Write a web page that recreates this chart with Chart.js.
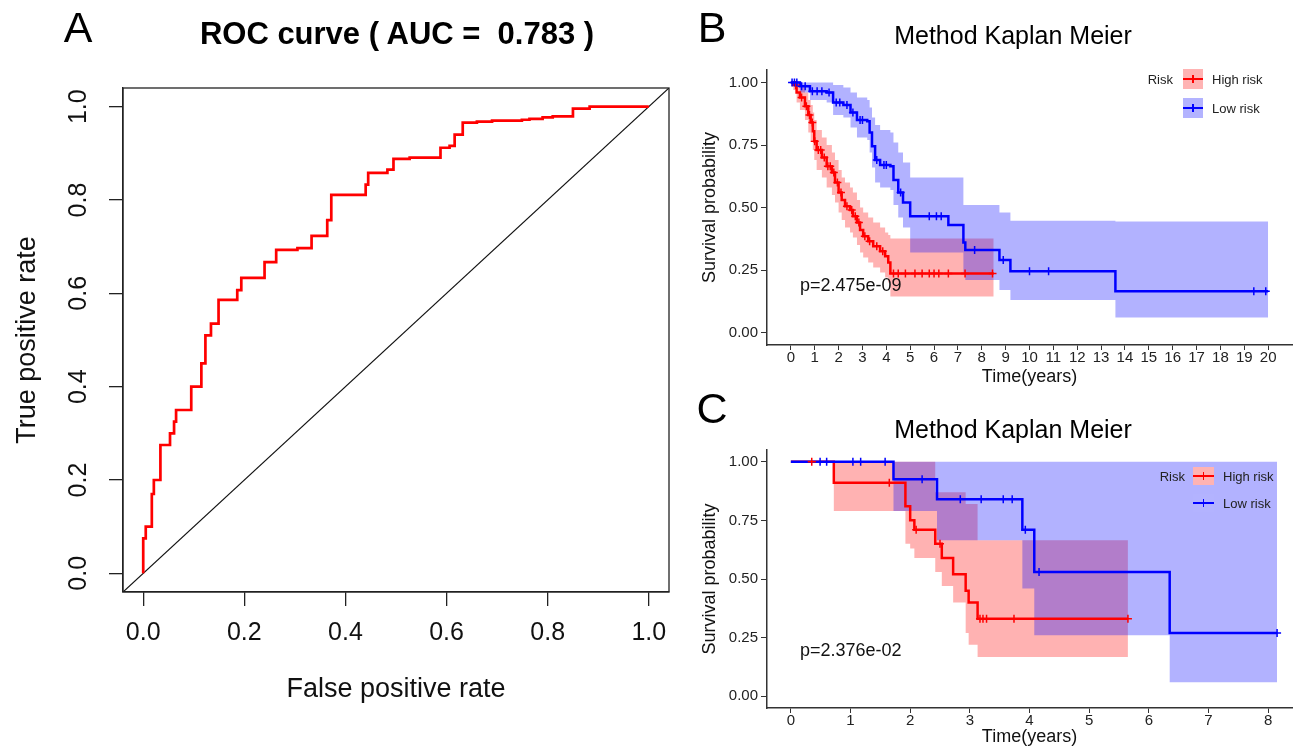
<!DOCTYPE html>
<html>
<head>
<meta charset="utf-8">
<script src="https://cdn.jsdelivr.net/npm/chart.js@4.4.1/dist/chart.umd.min.js"></script>
<style>
  html, body { margin: 0; padding: 0; background: #fff; overflow: hidden; }
  body { width: 1293px; height: 746px; position: relative; font-family: "Liberation Sans", Arial, sans-serif; }
  canvas { position: absolute; }
  .t { position: absolute; white-space: pre; line-height: 1; color: #000; }
  .c { transform: translate(-50%, -50%); }
  .l { transform: translate(0, -50%); }
  .r { transform: translate(-100%, -50%); }
  .key { position: absolute; }
  .key .h { position: absolute; left: 0; right: 0; top: 50%; height: 2px; margin-top: -1px; }
  .key .v { position: absolute; left: 50%; top: 50%; width: 1.5px; height: 8px; margin-left: -0.75px; margin-top: -4px; }
</style>
</head>
<body>
<canvas id="rocChart" width="680" height="746" style="left:0;top:0"></canvas>
<canvas id="kmB" width="625" height="350" style="left:680px;top:40px"></canvas>
<canvas id="kmC" width="625" height="326" style="left:680px;top:420px"></canvas>

<div class="t c" style="left:78px;top:27px;font-size:43px">A</div>
<div class="t c" style="left:397px;top:33px;font-size:31px;font-weight:bold">ROC curve ( AUC =  0.783 )</div>
<div class="t c" style="left:712px;top:27px;font-size:43px">B</div>
<div class="t c" style="left:1013px;top:35px;font-size:25px">Method Kaplan Meier</div>
<div class="t c" style="left:712px;top:408px;font-size:43px">C</div>
<div class="t c" style="left:1013px;top:429px;font-size:25px">Method Kaplan Meier</div>

<div class="t l" style="left:800px;top:285px;font-size:18px;color:#111">p=2.475e-09</div>
<div class="t l" style="left:800px;top:650px;font-size:18px;color:#111">p=2.376e-02</div>

<div class="t r" style="left:1173px;top:79px;font-size:13px;color:#222">Risk</div>
<div class="key" style="left:1183px;top:69px;width:20px;height:20px;background:#ffb3b3"><div class="h" style="background:#f00"></div><div class="v" style="background:#f00"></div></div>
<div class="key" style="left:1183px;top:98px;width:20px;height:20px;background:#b3b3ff"><div class="h" style="background:#00f"></div><div class="v" style="background:#00f"></div></div>
<div class="t l" style="left:1212px;top:79px;font-size:13px;color:#222">High risk</div>
<div class="t l" style="left:1212px;top:108px;font-size:13px;color:#222">Low risk</div>

<div class="t r" style="left:1185px;top:476px;font-size:13px;color:#222">Risk</div>
<div class="key" style="left:1193px;top:467px;width:21px;height:18px;background:#ffb3b3"><div class="h" style="background:#f00"></div><div class="v" style="background:#f00"></div></div>
<div class="key" style="left:1193px;top:494px;width:21px;height:18px;background:#b3b3ff"><div class="h" style="background:#00f"></div><div class="v" style="background:#00f"></div></div>
<div class="t l" style="left:1223px;top:476px;font-size:13px;color:#222">High risk</div>
<div class="t l" style="left:1223px;top:503px;font-size:13px;color:#222">Low risk</div>

<script>
// panel A: ROC corners (false positive rate, true positive rate)
const rocFpr = [0, 0, 0.005, 0.005, 0.017, 0.017, 0.021, 0.021, 0.034, 0.034,
  0.053, 0.053, 0.061, 0.061, 0.065, 0.065, 0.095, 0.095, 0.115, 0.115,
  0.123, 0.123, 0.134, 0.134, 0.149, 0.149, 0.186, 0.186, 0.194, 0.194,
  0.240, 0.240, 0.263, 0.263, 0.305, 0.305, 0.333, 0.333, 0.364, 0.364,
  0.372, 0.372, 0.440, 0.440, 0.445, 0.445, 0.483, 0.483, 0.495, 0.495,
  0.527, 0.527, 0.588, 0.588, 0.606, 0.606, 0.616, 0.616, 0.632, 0.632,
  0.660, 0.660, 0.690, 0.690, 0.749, 0.749, 0.764, 0.764, 0.790, 0.790,
  0.810, 0.810, 0.850, 0.850, 0.883, 0.883, 1.0];
const rocTpr = [0, 0.075, 0.075, 0.10, 0.10, 0.17, 0.17, 0.20, 0.20, 0.275,
  0.275, 0.30, 0.30, 0.325, 0.325, 0.35, 0.35, 0.40, 0.40, 0.45,
  0.45, 0.51, 0.51, 0.535, 0.535, 0.586, 0.586, 0.607, 0.607, 0.633,
  0.633, 0.667, 0.667, 0.693, 0.693, 0.697, 0.697, 0.723, 0.723, 0.757,
  0.757, 0.811, 0.811, 0.833, 0.833, 0.858, 0.858, 0.865, 0.865, 0.888,
  0.888, 0.891, 0.891, 0.912, 0.912, 0.916, 0.916, 0.940, 0.940, 0.966,
  0.966, 0.968, 0.968, 0.970, 0.970, 0.972, 0.972, 0.974, 0.974, 0.977,
  0.977, 0.979, 0.979, 0.996, 0.996, 1.0, 1.0];
const rocTicks = [0, 0.2, 0.4, 0.6, 0.8, 1.0];

// panel B: Kaplan Meier, high risk
const bHighTime = [0, 0.1, 0.24, 0.38, 0.59, 0.73, 0.83, 0.92, 0.98, 1.08, 1.3, 1.5, 1.72, 1.85, 2.0,
  2.13, 2.27, 2.48, 2.6, 2.77, 2.9, 3.03, 3.24, 3.45, 3.74, 3.95, 4.08, 4.17, 8.5];
const bHighSurv = [1.0, 0.99, 0.96, 0.94, 0.905, 0.87, 0.84, 0.805, 0.765, 0.73, 0.70, 0.665, 0.64, 0.60, 0.56,
  0.53, 0.505, 0.49, 0.465, 0.44, 0.41, 0.385, 0.365, 0.345, 0.325, 0.305, 0.28, 0.236, 0.236];
const bHighUpper = [1.0, 1.0, 0.99, 0.98, 0.96, 0.93, 0.91, 0.88, 0.85, 0.81, 0.78, 0.75, 0.72, 0.69, 0.65,
  0.62, 0.60, 0.58, 0.56, 0.53, 0.50, 0.48, 0.46, 0.44, 0.42, 0.40, 0.39, 0.376, 0.376];
const bHighLower = [1.0, 0.97, 0.92, 0.89, 0.85, 0.80, 0.77, 0.73, 0.69, 0.65, 0.62, 0.58, 0.55, 0.52, 0.48,
  0.45, 0.42, 0.40, 0.38, 0.35, 0.32, 0.30, 0.28, 0.26, 0.24, 0.22, 0.20, 0.144, 0.144];
const bHighCensor = [0.2, 0.45, 0.65, 0.78, 0.9, 1.0, 1.15, 1.25, 1.4, 1.55, 1.65, 1.8, 1.95, 2.1, 2.35,
  2.55, 2.7, 2.85, 3.1, 3.3, 3.6, 3.85, 4.3, 4.5, 4.8, 5.2, 5.5, 5.8, 6.0, 6.2, 6.6, 7.3, 8.45];

// panel B: low risk
const bLowTime = [0, 0.38, 0.8, 1.5, 1.77, 2.2, 2.5, 2.77, 3.2, 3.3, 3.4, 3.53, 3.74, 4.17, 4.3,
  4.5, 4.7, 5.0, 6.6, 7.23, 7.31, 8.74, 9.2, 13.6, 20.0];
const bLowSurv = [1.0, 0.985, 0.965, 0.96, 0.92, 0.91, 0.88, 0.85, 0.845, 0.80, 0.745, 0.69, 0.67, 0.665, 0.61,
  0.56, 0.52, 0.465, 0.43, 0.36, 0.33, 0.29, 0.245, 0.165, 0.165];
const bLowUpper = [1.0, 1.0, 1.0, 1.0, 0.99, 0.98, 0.96, 0.94, 0.93, 0.90, 0.86, 0.83, 0.81, 0.80, 0.76,
  0.72, 0.68, 0.62, 0.62, 0.51, 0.51, 0.48, 0.447, 0.444, 0.444];
const bLowLower = [1.0, 0.96, 0.93, 0.92, 0.87, 0.86, 0.82, 0.78, 0.77, 0.72, 0.66, 0.60, 0.58, 0.57, 0.51,
  0.46, 0.42, 0.32, 0.32, 0.24, 0.21, 0.17, 0.13, 0.06, 0.06];
const bLowCensor = [0.05, 0.15, 0.25, 0.45, 0.6, 0.9, 1.1, 1.3, 1.6, 1.9, 2.05, 2.35, 2.6, 2.9, 3.0,
  3.6, 3.9, 4.0, 4.6, 5.8, 6.1, 6.3, 7.7, 8.9, 10.0, 10.8, 19.4, 19.9];

// panel C
const cHighTime = [0, 0.72, 1.92, 2.0, 2.07, 2.42, 2.53, 2.72, 2.93, 2.98, 3.13, 5.65];
const cHighSurv = [1.0, 0.91, 0.81, 0.75, 0.71, 0.65, 0.59, 0.52, 0.45, 0.40, 0.33, 0.33];
const cHighUpper = [1.0, 1.0, 1.0, 1.0, 1.0, 0.87, 0.87, 0.87, 0.82, 0.82, 0.665, 0.665];
const cHighLower = [1.0, 0.79, 0.65, 0.63, 0.59, 0.53, 0.47, 0.40, 0.27, 0.22, 0.167, 0.167];
const cHighCensor = [0.35, 1.65, 2.1, 2.5, 3.17, 3.22, 3.28, 3.74, 5.65];

const cLowTime = [0, 1.72, 2.45, 3.88, 4.08, 6.35, 8.15];
const cLowSurv = [1.0, 0.925, 0.84, 0.71, 0.53, 0.27, 0.27];
const cLowUpper = [1.0, 1.0, 1.0, 1.0, 1.0, 1.0, 1.0];
const cLowLower = [1.0, 0.79, 0.665, 0.46, 0.26, 0.06, 0.06];
const cLowCensor = [0.49, 0.6, 1.04, 1.17, 1.58, 2.2, 2.84, 3.19, 3.56, 3.71, 3.93, 4.16, 8.15];

const bTimeTicks = [0, 1, 2, 3, 4, 5, 6, 7, 8, 9, 10, 11, 12, 13, 14, 15, 16, 17, 18, 19, 20];
const cTimeTicks = [0, 1, 2, 3, 4, 5, 6, 7, 8];
const survTicks = [0, 0.25, 0.5, 0.75, 1.0];

const FONT = '"Liberation Sans", Arial, sans-serif';
Chart.defaults.font.family = FONT;

function pts(xs, ys) {
  return xs.map((x, i) => ({ x: x, y: ys[i] }));
}

function survAt(times, surv, t) {
  let s = surv[0];
  times.forEach((ti, i) => { if (ti <= t) s = surv[i]; });
  return s;
}

function censorPts(times, surv, cens) {
  return cens.map(t => ({ x: t, y: survAt(times, surv, t) }));
}

const boxPlugin = {
  id: 'box',
  afterDraw(chart) {
    const { ctx, chartArea: a } = chart;
    ctx.save();
    ctx.strokeStyle = '#222';
    ctx.lineWidth = 1.3;
    ctx.strokeRect(a.left, a.top, a.right - a.left, a.bottom - a.top);
    ctx.restore();
  }
};

// ROC chart
new Chart(document.getElementById('rocChart'), {
  type: 'line',
  data: {
    datasets: [
      {
        data: pts(rocFpr, rocTpr),
        borderColor: '#ff0000',
        borderWidth: 2.7,
        pointRadius: 0,
        fill: false,
        order: 1
      },
      {
        data: [{ x: -0.04, y: -0.04 }, { x: 1.04, y: 1.04 }],
        borderColor: '#111',
        borderWidth: 1.2,
        pointRadius: 0,
        fill: false,
        order: 2
      }
    ]
  },
  options: {
    responsive: false,
    animation: false,
    events: [],
    layout: { padding: { left: 0, top: 88, right: 11, bottom: 0 } },
    plugins: { legend: { display: false }, tooltip: { enabled: false } },
    scales: {
      x: {
        type: 'linear', min: -0.04, max: 1.04,
        afterBuildTicks: s => { s.ticks = rocTicks.map(v => ({ value: v })); },
        afterFit: s => { s.height = 154; },
        ticks: { font: { size: 25 }, color: '#111', padding: 12, maxRotation: 0, autoSkip: false,
                 callback: v => v.toFixed(1) },
        grid: { drawOnChartArea: false, tickLength: 14, color: '#222', lineWidth: 1.3 },
        border: { display: true, color: '#222', width: 1.3 },
        title: { display: true, text: 'False positive rate', color: '#111',
                 font: { size: 27, lineHeight: 1 }, padding: { top: 0, bottom: 43 } }
      },
      y: {
        type: 'linear', min: -0.04, max: 1.04,
        afterBuildTicks: s => { s.ticks = rocTicks.map(v => ({ value: v })); },
        afterFit: s => { s.width = 123; },
        ticks: { font: { size: 25 }, color: '#111', padding: 13, minRotation: 90, maxRotation: 90,
                 crossAlign: 'center', callback: v => v.toFixed(1) },
        grid: { drawOnChartArea: false, tickLength: 14, color: '#222', lineWidth: 1.3 },
        border: { display: true, color: '#222', width: 1.3 },
        title: { display: true, text: 'True positive rate', color: '#111',
                 font: { size: 27, lineHeight: 1 }, padding: { top: 14, bottom: 0 } }
      }
    }
  },
  plugins: [boxPlugin]
});

function kmChart(id, g) {
  const edge = { borderWidth: 0, borderColor: 'rgba(0,0,0,0)', pointRadius: 0, stepped: 'before', fill: false };
  return new Chart(document.getElementById(id), {
    type: 'line',
    data: {
      datasets: [
        Object.assign({}, edge, { data: pts(g.hiT, g.hiUp), order: 12 }),
        Object.assign({}, edge, { data: pts(g.hiT, g.hiLo), fill: '-1', backgroundColor: 'rgba(255,0,0,0.3)', order: 11 }),
        Object.assign({}, edge, { data: pts(g.loT, g.loUp), order: 10 }),
        Object.assign({}, edge, { data: pts(g.loT, g.loLo), fill: '-1', backgroundColor: 'rgba(0,0,255,0.3)', order: 9 }),
        { data: pts(g.hiT, g.hiS), stepped: 'before', borderColor: '#ff0000', borderWidth: 2.5, pointRadius: 0, fill: false, order: 6 },
        { data: pts(g.loT, g.loS), stepped: 'before', borderColor: '#0000ff', borderWidth: 2.5, pointRadius: 0, fill: false, order: 5 },
        { data: censorPts(g.hiT, g.hiS, g.hiC), showLine: false, fill: false, borderColor: '#ff0000',
          pointStyle: 'cross', pointRadius: 4, pointBorderWidth: 1.5, pointBorderColor: '#ff0000', order: 2 },
        { data: censorPts(g.loT, g.loS, g.loC), showLine: false, fill: false, borderColor: '#0000ff',
          pointStyle: 'cross', pointRadius: 4, pointBorderWidth: 1.5, pointBorderColor: '#0000ff', order: 1 }
      ]
    },
    options: {
      responsive: false,
      animation: false,
      events: [],
      layout: { padding: { left: 0, top: 30, right: 13, bottom: 0 } },
      plugins: { legend: { display: false }, tooltip: { enabled: false } },
      scales: {
        x: {
          type: 'linear', min: g.xMin, max: g.xMax,
          afterBuildTicks: s => { s.ticks = g.xTicks.map(v => ({ value: v })); },
          afterFit: s => { s.height = g.xHeight; },
          ticks: { font: { size: 15, lineHeight: 1 }, color: '#222', padding: 0, maxRotation: 0, autoSkip: false,
                   callback: v => String(v) },
          grid: { drawOnChartArea: false, tickLength: 5, color: '#333', lineWidth: 1 },
          border: { display: true, color: '#333', width: 1.5 },
          title: { display: true, text: 'Time(years)', color: '#111',
                   font: { size: 18, lineHeight: 1 }, padding: { top: 0, bottom: g.xTitlePad } }
        },
        y: {
          type: 'linear', min: -0.05, max: 1.05,
          afterBuildTicks: s => { s.ticks = survTicks.map(v => ({ value: v })); },
          afterFit: s => { s.width = 87; },
          ticks: { font: { size: 15, lineHeight: 1 }, color: '#222', padding: 3,
                   callback: v => v.toFixed(2) },
          grid: { drawOnChartArea: false, tickLength: 6, color: '#333', lineWidth: 1 },
          border: { display: true, color: '#333', width: 1.5 },
          title: { display: true, text: 'Survival probability', color: '#111',
                   font: { size: 18, lineHeight: 1 }, padding: { top: 21, bottom: 0 } }
        }
      }
    }
  });
}

kmChart('kmB', {
  hiT: bHighTime, hiS: bHighSurv, hiUp: bHighUpper, hiLo: bHighLower, hiC: bHighCensor,
  loT: bLowTime, loS: bLowSurv, loUp: bLowUpper, loLo: bLowLower, loC: bLowCensor,
  xMin: -1, xMax: 21, xTicks: bTimeTicks, xHeight: 45, xTitlePad: 4
});

kmChart('kmC', {
  hiT: cHighTime, hiS: cHighSurv, hiUp: cHighUpper, hiLo: cHighLower, hiC: cHighCensor,
  loT: cLowTime, loS: cLowSurv, loUp: cLowUpper, loLo: cLowLower, loC: cLowCensor,
  xMin: -0.4, xMax: 8.4, xTicks: cTimeTicks, xHeight: 38, xTitlePad: 0
});
</script>
</body>
</html>
